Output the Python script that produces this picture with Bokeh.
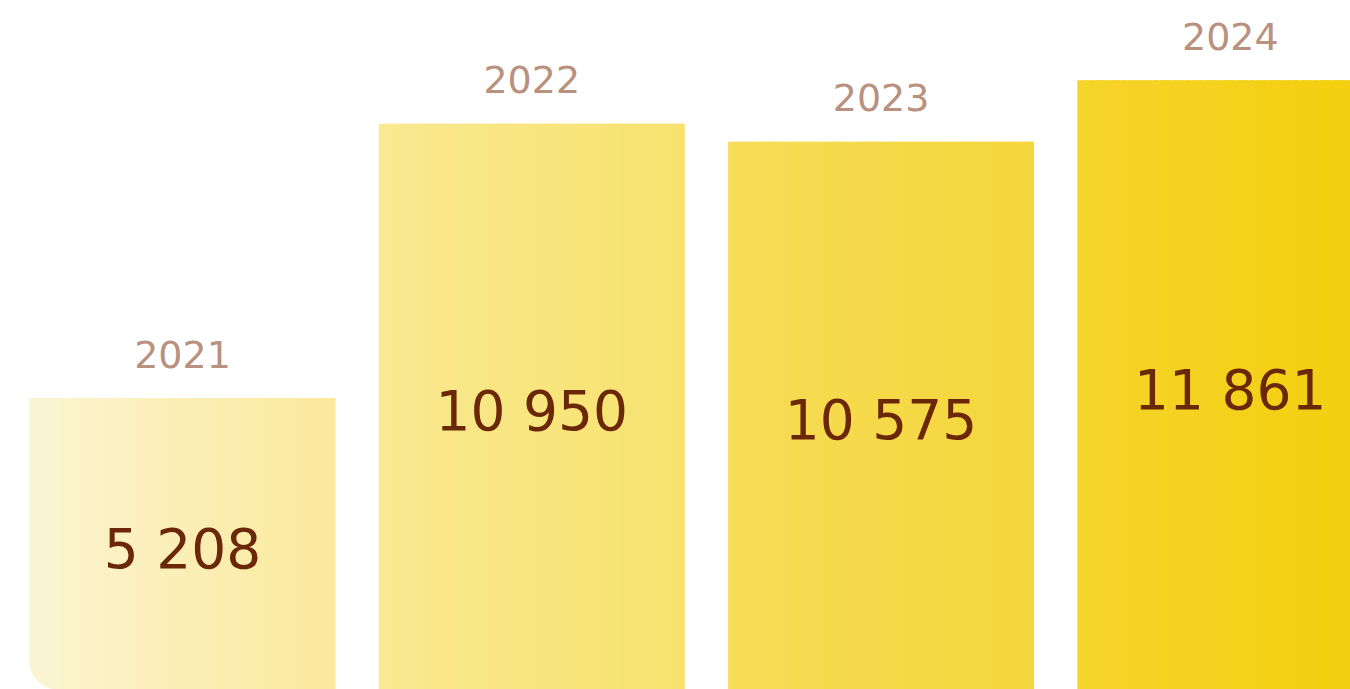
import numpy as np
from bokeh.plotting import figure
from bokeh.models import ColumnDataSource, Range1d
from bokeh.core.properties import value
from bokeh.embed import file_html
from bokeh.resources import INLINE

# ---- data ----
years = [2021, 2022, 2023, 2024]
year_labels = ["2021", "2022", "2023", "2024"]
counts = [5208, 10950, 10575, 11861]
count_labels = ["5 208", "10 950", "10 575", "11 861"]

# ---- style ----
bar_left_colors = ["#fbf4d2", "#f9e991", "#f6dc58", "#f5d42c"]
bar_right_colors = ["#fbe99b", "#f7e26d", "#f5d63a", "#f3cf0c"]
BAR_W = 0.876
Y0, Y1 = -894, 13532
X0, X1 = 2020.479, 2024.344
LABEL_BASE = -1092
N_STRIPS = 48
CORNER_W = 0.09
YEAR_COLOR = "#b8917f"
VALUE_COLOR = "#6b2808"
FONT = "DejaVu Sans"


def hex2rgb(h):
    h = h.lstrip("#")
    return np.array([int(h[i:i + 2], 16) for i in (0, 2, 4)], dtype=float)


def mix(a, b, t):
    c = hex2rgb(a) * (1 - t) + hex2rgb(b) * t
    return "#%02x%02x%02x" % tuple(int(round(v)) for v in c)


p = figure(width=1350, height=689, x_range=Range1d(X0, X1), y_range=Range1d(Y0, Y1),
           output_backend="svg", toolbar_location=None,
           x_axis_location=None, y_axis_location=None, min_border=0)
p.grid.visible = False
p.outline_line_color = None
p.background_fill_color = "white"
p.border_fill_color = "white"

# rounded corner piece of the first bar
p.quad(left=[years[0] - BAR_W / 2], right=[years[0] - BAR_W / 2 + CORNER_W * 1.5],
       top=[counts[0]], bottom=[Y0], fill_color=bar_left_colors[0], line_color=None,
       border_radius=(0, 0, 0, 28))

L, R, T, B, C = [], [], [], [], []
for i, (yr, cnt) in enumerate(zip(years, counts)):
    x0 = yr - BAR_W / 2
    start = CORNER_W if i == 0 else 0.0
    span = BAR_W - start
    step = span / N_STRIPS
    for j in range(N_STRIPS):
        l = x0 + start + j * step
        r = l + step * (1.8 if j < N_STRIPS - 1 else 1.0)
        t_mid = (start + (j + 0.5) * step) / BAR_W
        L.append(l); R.append(r); T.append(cnt); B.append(Y0)
        C.append(mix(bar_left_colors[i], bar_right_colors[i], t_mid))

strips = ColumnDataSource(dict(left=L, right=R, top=T, bottom=B, color=C))
p.quad(left="left", right="right", top="top", bottom="bottom", fill_color="color",
       line_color=None, source=strips)

lab = ColumnDataSource(dict(
    x=years, y=counts, ytxt=year_labels,
    vy=[(c + LABEL_BASE) / 2 for c in counts], vtxt=count_labels))

p.text(x="x", y="y", text="ytxt", source=lab, text_align="center",
       text_baseline="alphabetic", y_offset=-44, text_font=value(FONT),
       text_font_size="38px", text_color=YEAR_COLOR)
p.text(x="x", y="vy", text="vtxt", source=lab, text_align="center",
       text_baseline="middle", text_font=value(FONT),
       text_font_size="55px", text_color=VALUE_COLOR)

open("out.html", "w").write(file_html(p, INLINE))
